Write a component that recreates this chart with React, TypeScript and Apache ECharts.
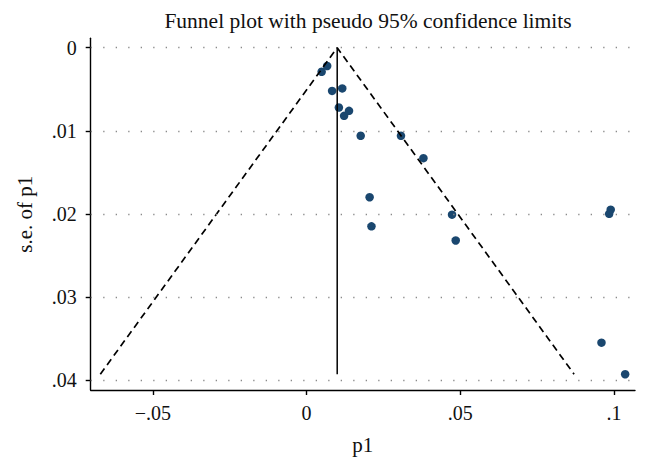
import React, { useEffect, useRef } from "react";
import * as echarts from "echarts";

const titleText = "Funnel plot with pseudo 95% confidence limits";
const xName = "p1";
const yName = "s.e. of p1";

const effectP1 = [0.0049, 0.0067, 0.0083, 0.0116, 0.0105, 0.0122, 0.0138, 0.0176, 0.0307, 0.038, 0.0205, 0.0473, 0.0211, 0.0485, 0.0989, 0.0984, 0.0959, 0.1036];
const seP1 = [0.0029, 0.0022, 0.0052, 0.0049, 0.0072, 0.0082, 0.0076, 0.0106, 0.0106, 0.0133, 0.018, 0.0201, 0.0215, 0.0232, 0.0195, 0.02, 0.0355, 0.0393];

const pooledEstimate = 0.00996;
const maxSe = 0.0393;
const zCrit = 1.96;

const xTicks = [-0.05, 0, 0.05, 0.1];
const yTicks = [0, 0.01, 0.02, 0.03, 0.04];
const xExtent = [-0.0702, 0.1068];
const yExtent = [-0.00113, 0.0412];

const fmt = (v: number) => {
  if (Math.abs(v) < 1e-12) return "0";
  const s = String(Math.round(v * 1000) / 1000).replace(/^(-?)0\./, "$1.");
  return s.replace("-", "\u2212");
};

const FONT = "'Liberation Serif', 'DejaVu Serif', serif";

export default function App() {
  const ref = useRef<HTMLDivElement>(null);
  useEffect(() => {
    if (!ref.current) return;
    const chart = echarts.init(ref.current, undefined, { renderer: "svg" });
    const points = effectP1.map((x, i) => [x, seP1[i]]);
    const left = pooledEstimate - zCrit * maxSe;
    const right = pooledEstimate + zCrit * maxSe;
    chart.setOption({
      animation: false,
      backgroundColor: "#ffffff",
      textStyle: { fontFamily: FONT },
      title: {
        text: titleText,
        left: 363,
        textAlign: "center",
        top: 5,
        textStyle: { fontFamily: FONT, fontWeight: "normal", fontSize: 21.5, color: "#111" },
      },
      grid: { left: 90.7, right: 14, top: 38.3, bottom: 84 },
      xAxis: {
        type: "value",
        min: xExtent[0],
        max: xExtent[1],
        name: xName,
        nameLocation: "middle",
        nameGap: 44,
        nameTextStyle: { fontFamily: FONT, fontSize: 21, color: "#111" },
        axisLine: { show: true, onZero: false, lineStyle: { color: "#000", width: 1.4 } },
        axisTick: { show: true, length: 5, customValues: xTicks, lineStyle: { color: "#000", width: 1.4 } },
        axisLabel: { customValues: xTicks, formatter: fmt, margin: 13, fontFamily: FONT, fontSize: 20, color: "#111" },
        splitLine: { show: false },
      },
      yAxis: {
        type: "value",
        inverse: true,
        min: yExtent[0],
        max: yExtent[1],
        name: yName,
        nameLocation: "middle",
        nameGap: 55,
        nameTextStyle: { fontFamily: FONT, fontSize: 21, color: "#111" },
        axisLine: { show: true, onZero: false, lineStyle: { color: "#000", width: 1.4 } },
        axisTick: { show: true, length: 5, customValues: yTicks, lineStyle: { color: "#000", width: 1.4 } },
        axisLabel: { customValues: yTicks, formatter: fmt, margin: 14, fontFamily: FONT, fontSize: 20, color: "#111" },
        splitLine: { show: false },
      },
      series: [
        {
          type: "line",
          data: [],
          silent: true,
          markLine: {
            silent: true,
            symbol: "none",
            label: { show: false },
            lineStyle: { color: "#8a8a8a", width: 1.3, type: [1.3, 11.2] },
            data: yTicks.map((v) => ({ yAxis: v })),
          },
        },
        {
          type: "line",
          data: [
            [left, maxSe],
            [pooledEstimate, 0],
            [right, maxSe],
          ],
          symbol: "none",
          clip: false,
          lineStyle: { color: "#000", width: 1.7, type: [7, 4.5] },
        },
        {
          type: "line",
          data: [
            [pooledEstimate, 0],
            [pooledEstimate, maxSe],
          ],
          symbol: "none",
          clip: false,
          lineStyle: { color: "#000", width: 1.5, type: "solid" },
        },
        {
          type: "scatter",
          data: points,
          symbol: "circle",
          symbolSize: 8.5,
          clip: false,
          itemStyle: { color: "#1a476f", opacity: 1 },
        },
      ],
    });
    return () => chart.dispose();
  }, []);
  return (
    <div
      ref={ref}
      style={{ position: "fixed", left: 0, top: 0, width: 649, height: 474 }}
    />
  );
}
